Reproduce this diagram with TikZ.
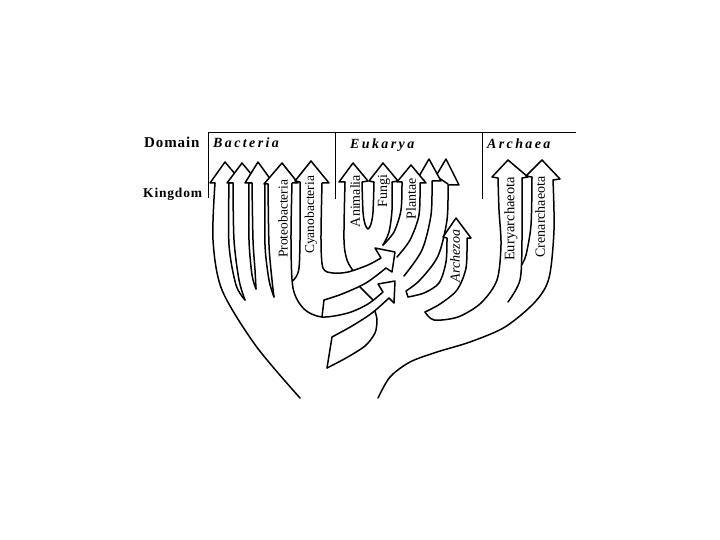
\documentclass[tikz,border=0pt]{standalone}
\usepackage{fontspec}
\setmainfont{Liberation Serif}
\newfontfamily\rowfont[LetterSpace=6]{Liberation Serif}
\newfontfamily\cladefont[LetterSpace=17]{Liberation Serif}
\usetikzlibrary{positioning}
\tikzset{
  branch/.style={line width=1.5pt, line cap=round, line join=round},
  tiphead/.style={branch, fill=white},
  rule/.style={line width=0.8pt},
  rowlbl/.style={font=\rowfont\bfseries\fontsize{15}{15}\selectfont, anchor=base west, inner sep=0pt},
  cladelbl/.style={font=\cladefont\bfseries\itshape\fontsize{14}{14}\selectfont, anchor=base west, inner sep=0pt},
  kingdomlbl/.style={font=\fontsize{13.5}{13.5}\selectfont, rotate=90, inner sep=0pt},
}

\begin{document}
\begin{tikzpicture}[x=1pt, y=-1pt]
  \useasboundingbox (0,0) rectangle (720,540);
  % header rules
  \draw[rule] (208,198) -- (208,132) -- (576,132);
  \draw[rule] (335,132) -- (335,199);
  \draw[rule] (482,132) -- (482,199);
  \node[rowlbl] (domain) at (144,148) {Domain};
  \node[rowlbl, font=\rowfont\bfseries\fontsize{13.5}{13.5}\selectfont] (kingdom) at (143,197) {Kingdom};
  \node[cladelbl] (bacteria) at (213,148) {Bacteria};
  \node[cladelbl] (eukarya) at (350,149) {Eukarya};
  \node[cladelbl] (archaea) at (487,149) {Archaea};

  % Bacteria branches
  \draw[branch] plot[smooth] coordinates {(215,183) (213,240) (222,290) (256,346) (300,398)};
  \draw[branch] plot[smooth] coordinates {(229,183) (229,245) (236,285) (245,300)};
  \draw[branch] plot[smooth] coordinates {(233,183) (234,240) (239,280) (245,300)};
  \draw[branch] plot[smooth] coordinates {(249,183) (249,240) (252,275) (256,289)};
  \draw[branch] plot[smooth] coordinates {(252,183) (253,240) (255,270) (256,289)};
  \draw[branch] plot[smooth] coordinates {(265,183) (265,245) (269,280) (274,297)};
  \draw[branch] plot[smooth] coordinates {(268,184) (269,245) (272,280) (274,297)};
  % Proteobacteria right edge, on into the lower arrow
  \draw[branch] plot[smooth] coordinates {(292,183) (291,240) (293,288) (304,309) (322,317) (348,313) (368,304) (383,292)};
  \draw[branch] plot[smooth] coordinates {(300,182) (300,240) (299,268) (296,277) (292.5,281)};
  % Cyanobacteria right edge, on into the upper arrow
  \draw[branch] plot[smooth] coordinates {(322,183) (321,240) (323,268) (333,273) (348,272) (368,265) (381,258)};
  \draw[branch] plot[smooth] coordinates {(386,268) (366,283) (342,294) (324,300)} -- (322,317);
  \draw[branch] plot[smooth] coordinates {(389,298) (372,313) (352,326) (332,337)};
  % Eukarya stem
  \draw[branch] (332,337) -- (327,368);
  \draw[branch] plot[smooth] coordinates {(327,368) (346,358) (365,346) (375,333) (377,320) (375,311.5)};
  \draw[branch] plot[smooth] coordinates {(360,287) (367,294) (373,300)};
  \draw[branch] plot[smooth] coordinates {(345,182) (344,240) (347,260) (353,270.5)};
  \draw[branch] plot[smooth] coordinates {(362,182) (363,212) (365,224) (368,229) (371,224) (373,212) (374,182)};
  \draw[branch] plot[smooth] coordinates {(392,182) (392,210) (389,232) (383,245)};
  \draw[branch] plot[smooth] coordinates {(402,182) (401,210) (394,232) (383,245)};
  \draw[branch] plot[smooth] coordinates {(420,183) (419,215) (410,240) (397,257)};
  \draw[branch] plot[smooth] coordinates {(432,181) (431,215) (422,250) (404,276)};
  \draw[branch] plot[smooth] coordinates {(448,184) (447,220) (438,256) (420,280) (406,291)} -- (408,297);
  \draw[branch] plot[smooth] coordinates {(408,297) (424,293) (439,283) (446,262) (447,238)};
  \draw[branch] plot[smooth] coordinates {(467,238) (466,268) (457,290) (440,304) (425,312)};
  \draw[branch] plot[smooth] coordinates {(425,312) (434,320) (458,317) (481,303) (497,280) (501,245) (499,210) (498,178)};
  % Archaea branches
  \draw[branch] plot[smooth] coordinates {(522,178) (522,240) (520,280) (508,302)};
  \draw[branch] plot[smooth] coordinates {(532,177) (531,225) (526,255) (521.5,265)};
  \draw[branch] plot[smooth] coordinates {(553,180) (554,230) (549,278) (535,302) (505,327) (470,342) (437,352) (410,362) (390,377) (378,398)};

  % arrow heads
  \draw[tiphead] (215,183) -- (210,183) -- (225,162) -- (241,181) -- (229,183);
  \draw[tiphead] (233,183) -- (227,183) -- (242,163) -- (257,181) -- (249,183);
  \draw[tiphead] (252,183) -- (245,183) -- (258,162) -- (271,180) -- (265,183);
  \draw[tiphead] (268,184) -- (264,184) -- (282,163) -- (298,183) -- (292,183);
  \draw[tiphead] (300,182) -- (295,181) -- (311,161) -- (329,183) -- (322,183);
  \draw[tiphead] (448,184) -- (436,176) -- (446,159) -- (459,185) -- (449,185);
  \draw[tiphead] (424,180) -- (418,178) -- (429,159) -- (441,181) -- (432,181);
  \draw[tiphead] (402,182) -- (397,182) -- (411,165) -- (426,183) -- (420,183);
  \draw[tiphead] (374,182) -- (369,181) -- (383,163) -- (398,181) -- (392,182);
  \draw[tiphead] (345,182) -- (339,182) -- (353,163) -- (368,181) -- (362,182);
  \draw[tiphead] (447,238) -- (443,237) -- (456,218) -- (471,238) -- (467,238);
  \draw[tiphead] (498,178) -- (492,177) -- (508,160) -- (528,177) -- (522,178);
  \draw[tiphead] (532,177) -- (526,176) -- (542,160) -- (560,179) -- (553,180);
  \draw[tiphead] (381,258) -- (375,248) -- (395,252) -- (392,272) -- (386,268);
  \draw[tiphead] (383,292) -- (378,284) -- (395,281) -- (394,303) -- (389,298);

  % kingdom names
  \node[kingdomlbl] (proteo) at (283,219) {Proteobacteria};
  \node[kingdomlbl] (cyano) at (311,215) {Cyanobacteria};
  \node[kingdomlbl, font=\fontsize{14}{14}\selectfont] (animalia) at (355,201) {Animalia};
  \node[kingdomlbl, font=\fontsize{14}{14}\selectfont] (fungi) at (384,191) {Fungi};
  \node[kingdomlbl, font=\fontsize{14}{14}\selectfont] (plantae) at (411,199) {Plantae};
  \node[kingdomlbl, font=\fontsize{14}{14}\selectfont\itshape] (archezoa) at (455,256) {Archezoa};
  \node[kingdomlbl, font=\fontsize{14.5}{14.5}\selectfont] (eury) at (511,219) {Euryarchaeota};
  \node[kingdomlbl, font=\fontsize{14}{14}\selectfont] (crena) at (540,217) {Crenarchaeota};
\end{tikzpicture}
\end{document}
